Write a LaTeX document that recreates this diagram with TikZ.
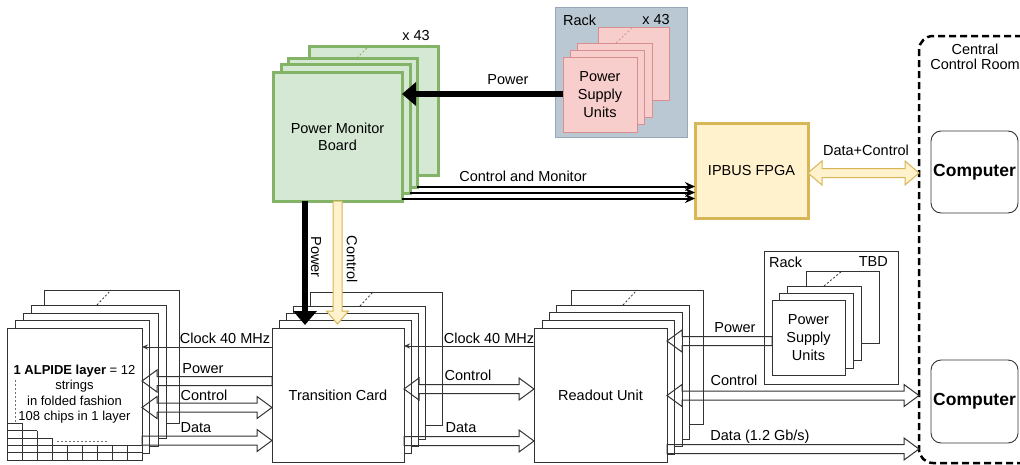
\documentclass[tikz,border=0pt]{standalone}
\usepackage{fontspec}
\setmainfont{Liberation Sans}
\usetikzlibrary{arrows.meta,calc}
\definecolor{gfill}{HTML}{D5E8D4}
\definecolor{gline}{HTML}{82B366}
\definecolor{rfill}{HTML}{F8CECC}
\definecolor{rline}{HTML}{D98F8F}
\definecolor{yfill}{HTML}{FFF2CC}
\definecolor{yline}{HTML}{D6B656}
\definecolor{bfill}{HTML}{BAC8D3}
\definecolor{bline}{HTML}{98A8B8}
\definecolor{lc}{HTML}{333333}
\tikzset{
  lbl/.style={font=\fontsize{14.5}{17}\selectfont, inner sep=0pt, align=center},
  bx/.style n args={2}{minimum width=#1pt, minimum height=#2pt, anchor=north west, inner sep=0pt, outer sep=0pt},
  wbox/.style={draw=lc, fill=white, line width=0.9pt},
  gbox/.style={draw=gline, fill=gfill, line width=3pt},
  rbox/.style={draw=rline, fill=rfill, line width=1pt},
  dotl/.style={line width=0.8pt, dash pattern=on 2pt off 2pt},
  thinarr/.style={draw=lc, line width=1pt, -{Stealth[length=6pt,width=5pt]}},
  cmarr/.style={draw=black, line width=2pt, -{Stealth[length=10pt,width=9pt]}},
  bigarr/.style={draw=black, line width=6pt, -{Triangle[length=14pt,width=23pt]}},
  flexs/.style={draw=lc, line width=1pt, to path={let \p1=(\tikztostart), \p2=(\tikztotarget), \n1={sign(\x2-\x1)} in
    (\x1,\y1+4.5pt) -- ({\x2-(\n1)*15pt},\y1+4.5pt) -- ({\x2-(\n1)*15pt},\y1+11pt) -- (\x2,\y1)
    -- ({\x2-(\n1)*15pt},\y1-11pt) -- ({\x2-(\n1)*15pt},\y1-4.5pt) -- (\x1,\y1-4.5pt) -- cycle}},
  flexd/.style={draw=lc, line width=1pt, to path={let \p1=(\tikztostart), \p2=(\tikztotarget), \n1={sign(\x2-\x1)} in
    ({\x1+(\n1)*15pt},\y1+4.5pt) -- ({\x2-(\n1)*15pt},\y1+4.5pt) -- ({\x2-(\n1)*15pt},\y1+11pt) -- (\x2,\y1)
    -- ({\x2-(\n1)*15pt},\y1-11pt) -- ({\x2-(\n1)*15pt},\y1-4.5pt) -- ({\x1+(\n1)*15pt},\y1-4.5pt)
    -- ({\x1+(\n1)*15pt},\y1-11pt) -- (\x1,\y1) -- ({\x1+(\n1)*15pt},\y1+11pt) -- cycle}},
  flexdy/.style={draw=yline, fill=yfill, line width=1pt, to path={let \p1=(\tikztostart), \p2=(\tikztotarget), \n1={sign(\x2-\x1)} in
    ({\x1+(\n1)*14pt},\y1+4.5pt) -- ({\x2-(\n1)*14pt},\y1+4.5pt) -- ({\x2-(\n1)*14pt},\y1+12pt) -- (\x2,\y1)
    -- ({\x2-(\n1)*14pt},\y1-12pt) -- ({\x2-(\n1)*14pt},\y1-4.5pt) -- ({\x1+(\n1)*14pt},\y1-4.5pt)
    -- ({\x1+(\n1)*14pt},\y1-12pt) -- (\x1,\y1) -- ({\x1+(\n1)*14pt},\y1+12pt) -- cycle}},
  flexvy/.style={draw=yline, fill=yfill, line width=1pt, to path={let \p1=(\tikztostart), \p2=(\tikztotarget) in
    (\x1-4.5pt,\y1) -- (\x1-4.5pt,{\y2+13pt}) -- (\x1-11pt,{\y2+13pt}) -- (\x1,\y2)
    -- (\x1+11pt,{\y2+13pt}) -- (\x1+4.5pt,{\y2+13pt}) -- (\x1+4.5pt,\y1) -- cycle}},
}
\begin{document}
\begin{tikzpicture}[x=1pt,y=-1pt]
\useasboundingbox (0,0) rectangle (1020,464);
\clip (0,0) rectangle (1020,464);

% ---------- Power Monitor Board stack ----------
\node[gbox, bx={129}{129}] (pmbA) at (309,46) {};
\draw[gline, dotl] (357,58) -- (368,47);
\node[gbox, bx={129}{129}] (pmbB) at (288,58) {};
\node[gbox, bx={129}{129}] (pmbC) at (281,64) {};
\node[gbox, bx={129}{129}, lbl] (pmb) at (273,72) {Power Monitor\\Board};
\node[lbl] (pmbn) at (416,36) {x 43};

% ---------- Top rack with PSUs ----------
\node[draw=bline, fill=bfill, line width=1pt, bx={132}{130}] (rack1) at (555,7) {};
\node[lbl, anchor=west] (rack1l) at (563,20) {Rack};
\node[lbl, anchor=east] (rack1n) at (670,20) {x 43};
\node[rbox, bx={71}{73}] (psuA) at (598,27) {};
\draw[rline, dotl] (616,43) -- (633,27);
\node[rbox, bx={75}{74}] (psuB) at (577,43) {};
\node[rbox, bx={74}{74}] (psuC) at (570,50) {};
\node[rbox, bx={74}{75}, lbl, font=\fontsize{14.5}{18}\selectfont] (psu) at (563,57) {Power\\Supply\\Units};

% ---------- IPBUS FPGA ----------
\node[draw=yline, fill=yfill, line width=3pt, bx={113}{95}, lbl] (ipbus) at (695,123) {IPBUS FPGA};

% ---------- Central control room ----------
\node[draw=black, line width=2.5pt, dash pattern=on 7pt off 4pt, rounded corners=14pt, bx={150}{427}] (ccr) at (919,36) {};
\node[lbl, font=\fontsize{14.5}{15}\selectfont] (ccrl) at (975,57) {Central\\Control Room};
\node[draw=lc, line width=0.9pt, rounded corners=10pt, bx={87}{82}, font=\bfseries\fontsize{17.5}{20}\selectfont] (comp1) at (931,131) {Computer};
\node[draw=lc, line width=0.9pt, rounded corners=10pt, bx={87}{83}, font=\bfseries\fontsize{17.5}{20}\selectfont] (comp2) at (931,360) {Computer};

% ---------- ALPIDE stack ----------
\node[wbox, bx={135}{133}] (alpA) at (44,290) {};
\draw[lc, dotl] (97,305) -- (111,290);
\node[wbox, bx={135}{133}] (alpB) at (31,305) {};
\node[wbox, bx={135}{133}] (alpC) at (23,313) {};
\node[wbox, bx={134}{133}] (alpD) at (15,320) {};
\node[wbox, bx={135}{132}, font=\fontsize{13}{15.5}\selectfont, align=center] (alp) at (7,328) {\textbf{1 ALPIDE layer} = 12\\strings\\in folded fashion\\108 chips in 1 layer};
% chip grid
\draw[lc, line width=0.8pt]
  (7,423) -- (22,423) (7,430.5) -- (37,430.5) (7,438) -- (52,438)
  (7,445) -- (142,445) (7,452.5) -- (142,452.5)
  (22,423) -- (22,460) (37,430.5) -- (37,460) (52,438) -- (52,460)
  (67,445) -- (67,460) (82,445) -- (82,460) (97,445) -- (97,460)
  (112,445) -- (112,460) (127,445) -- (127,460);
\draw[lc!70, dotl] (15,380) -- (15,423);
\draw[lc!70, dotl] (57,441) -- (107,441);

% ---------- Transition card stack ----------
\node[wbox, bx={132}{133}] (tcA) at (310,292) {};
\draw[lc, dotl] (360,306) -- (373,292);
\node[wbox, bx={132}{133}] (tcB) at (293,306) {};
\node[wbox, bx={132}{133}] (tcC) at (286,313) {};
\node[wbox, bx={132}{133}] (tcD) at (279,320) {};
\node[wbox, bx={132}{134}, lbl] (tc) at (272,328) {Transition Card};

% ---------- Readout unit stack ----------
\node[wbox, bx={132}{134}] (ruA) at (571,290) {};
\draw[lc, dotl] (623,305) -- (637,290);
\node[wbox, bx={133}{134}] (ruB) at (556,305) {};
\node[wbox, bx={133}{134}] (ruC) at (549,312) {};
\node[wbox, bx={132}{134}] (ruD) at (542,320) {};
\node[wbox, bx={133}{134}, lbl] (ru) at (534,328) {Readout Unit};

% ---------- Bottom rack with PSUs ----------
\node[draw=lc, fill=white, line width=0.9pt, bx={134}{133}] (rack2) at (764,251) {};
\node[lbl, anchor=west] (rack2l) at (769,262) {Rack};
\node[lbl, anchor=east] (rack2n) at (888,262) {TBD};
\node[wbox, bx={73}{72}] (psu2A) at (806,271) {};
\draw[lc, dotl] (824,286) -- (842,271);
\node[wbox, bx={74}{74}] (psu2B) at (787,286) {};
\node[wbox, bx={74}{75}] (psu2C) at (779,293) {};
\node[wbox, bx={73}{75}, lbl, font=\fontsize{14.5}{18}\selectfont] (psu2) at (772,300) {Power\\Supply\\Units};

% ---------- Connectors ----------
\draw[bigarr] (psu.west |- 0,94) -- (pmb.east |- 0,94);
\node[lbl] (l1) at (508,80) {Power};

\draw[cmarr] (pmbB.east |- 0,186.5) -- (ipbus.west |- 0,186.5);
\draw[cmarr] (pmbC.east |- 0,192.5) -- (ipbus.west |- 0,192.5);
\draw[cmarr] (pmb.east |- 0,198.5) -- (ipbus.west |- 0,198.5);
\node[lbl] (l2) at (523,176) {Control and Monitor};

\draw[flexdy] (ipbus.east |- 0,173) to (ccr.west |- 0,173);
\node[lbl] (l3) at (866,150) {Data+Control};

\draw[bigarr] ($(pmb.south)+(-32.5,0)$) -- ($(tc.north)+(-33,-3)$);
\draw[flexvy] (pmb.south) to ($(pmb.south |- tc.north)+(0,-4)$);
\node[lbl, rotate=-90] (l4) at (316,257) {Power};
\node[lbl, rotate=-90] (l5) at (352,259) {Control};

% ALPIDE <-> TC
\draw[thinarr] (tc.west |- 0,347) -- (alp.east |- 0,347);
\draw[flexs] (tc.west |- 0,381) to (alp.east |- 0,381);
\draw[flexd] (alp.east |- 0,407.5) to (tc.west |- 0,407.5);
\draw[flexs] (alp.east |- 0,440.5) to (tc.west |- 0,440.5);
\node[lbl] (l6) at (225,338) {Clock 40 MHz};
\node[lbl] (l7) at (203,369) {Power};
\node[lbl] (l8) at (204,395) {Control};
\node[lbl] (l9) at (196,428) {Data};

% TC <-> RU
\draw[thinarr] (ru.west |- 0,346) -- (tc.east |- 0,346);
\draw[flexd] (tc.east |- 0,389) to (ru.west |- 0,389);
\draw[flexs] (tc.east |- 0,441) to (ru.west |- 0,441);
\node[lbl] (l10) at (489,338) {Clock 40 MHz};
\node[lbl] (l11) at (468,375) {Control};
\node[lbl] (l12) at (461,428) {Data};

% RU <-> right
\draw[flexs] (psu2.west |- 0,341) to (ru.east |- 0,341);
\draw[flexd] (ru.east |- 0,395.5) to (ccr.west |- 0,395.5);
\draw[flexs] (ru.east |- 0,449) to (ccr.west |- 0,449);
\node[lbl] (l13) at (735,328) {Power};
\node[lbl] (l14) at (734,380) {Control};
\node[lbl] (l15) at (760,437) {Data (1.2 Gb/s)};
\end{tikzpicture}
\end{document}
